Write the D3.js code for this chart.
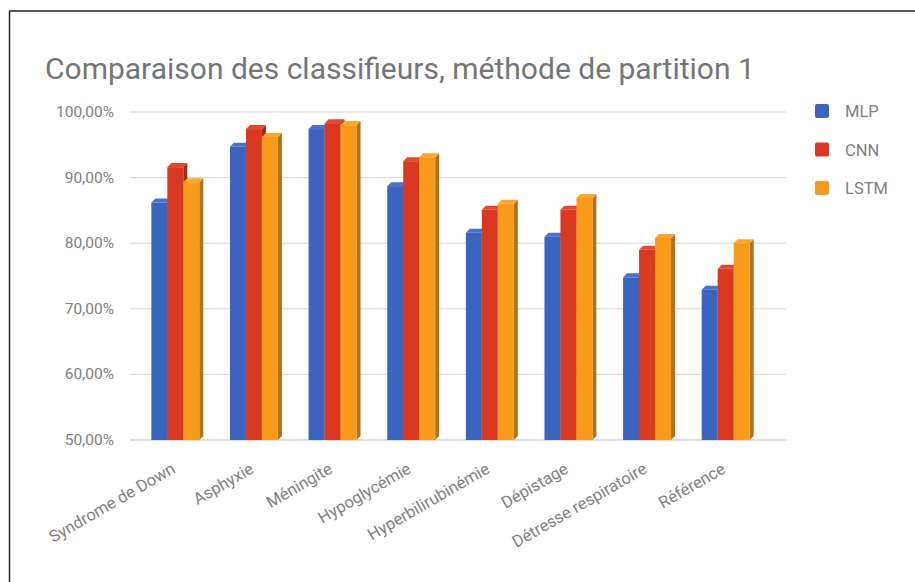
<!DOCTYPE html>
<html>
<head>
<meta charset="utf-8">
<script src="https://cdn.jsdelivr.net/npm/d3@7"></script>
<style>
  body { margin: 0; background: #fff; }
  text { font-family: Roboto, "Open Sans", sans-serif; }
</style>
</head>
<body>
<div id="chart"></div>
<script>
const categories = ["Syndrome de Down", "Asphyxie", "Méningite", "Hypoglycémie",
    "Hyperbilirubinémie", "Dépistage", "Détresse respiratoire", "Référence"];
const seriesNames = ["MLP", "CNN", "LSTM"];
const mlp  = [86.2, 94.7, 97.4, 88.7, 81.6, 81.0, 74.8, 72.9];
const cnn  = [91.6, 97.4, 98.3, 92.5, 85.1, 85.1, 79.0, 76.1];
const lstm = [89.3, 96.2, 98.0, 93.1, 86.0, 86.9, 80.8, 80.0];
const yTicks = [50, 60, 70, 80, 90, 100];

const colors = ["#3b64bf", "#da3921", "#f89b1b"];
const sides = ["#2c4a8e", "#a12a18", "#b5711a"];
const tops = ["#4a72c8", "#e0482f", "#fba62e"];

const W = 915, H = 582;
const margin = {top: 112, left: 136, bottom: 142, right: 150};
const depth = 4;

const svg = d3.select("#chart").append("svg")
    .attr("width", W).attr("height", H);

// frame
svg.append("line").attr("x1", 9.5).attr("x2", 9.5).attr("y1", 11).attr("y2", H)
    .attr("stroke", "#222").attr("stroke-width", 1.5);
svg.append("line").attr("x1", 9).attr("x2", W).attr("y1", 11).attr("y2", 11)
    .attr("stroke", "#222").attr("stroke-width", 1.5);

const x0 = d3.scaleBand()
    .domain(categories)
    .range([margin.left, margin.left + 629])
    .paddingInner(0.39)
    .paddingOuter(0.195);

const x1 = d3.scaleBand()
    .domain(seriesNames)
    .range([0, x0.bandwidth()]);

const y = d3.scaleLinear()
    .domain([50, 100])
    .range([440, 112]);

// gridlines
svg.append("g").selectAll("line")
    .data(yTicks)
    .enter().append("line")
    .attr("x1", 130).attr("x2", 786)
    .attr("y1", d => y(d)).attr("y2", d => y(d))
    .attr("stroke", d => d === 50 ? "#bdbdbd" : "#d6d6d6")
    .attr("stroke-width", 1);

// y axis labels
svg.append("g").selectAll("text")
    .data(yTicks)
    .enter().append("text")
    .attr("x", 114)
    .attr("y", d => y(d) + 5)
    .attr("text-anchor", "end")
    .attr("fill", "#808080")
    .style("font-size", "15.5px")
    .text(d => d3.format(".2f")(d).replace(".", ",") + "%");

// bars
const data = categories.map((c, i) => ({cat: c, vals: [mlp[i], cnn[i], lstm[i]]}));
const groups = svg.append("g").selectAll("g")
    .data(data)
    .enter().append("g")
    .attr("transform", d => `translate(${x0(d.cat)},0)`);

seriesNames.forEach((s, k) => {
    const bx = x1(s), bw = x1.bandwidth();
    // side face
    groups.append("path")
        .attr("fill", sides[k])
        .attr("d", d => {
            const yt = y(d.vals[k]);
            return `M${bx + bw},${yt} L${bx + bw + depth},${yt - depth} L${bx + bw + depth},${y(50) - depth} L${bx + bw},${y(50)} Z`;
        });
    // top face
    groups.append("path")
        .attr("fill", tops[k])
        .attr("d", d => {
            const yt = y(d.vals[k]);
            return `M${bx},${yt} L${bx + depth},${yt - depth} L${bx + bw + depth},${yt - depth} L${bx + bw},${yt} Z`;
        });
    // front face
    groups.append("rect")
        .attr("x", bx)
        .attr("width", bw)
        .attr("y", d => y(d.vals[k]))
        .attr("height", d => y(50) - y(d.vals[k]))
        .attr("fill", colors[k]);
});

// x labels
svg.append("g").selectAll("text")
    .data(categories)
    .enter().append("text")
    .attr("transform", d => `translate(${x0(d) + x0.bandwidth() / 2 + 1},${472}) rotate(-30)`)
    .attr("text-anchor", "end")
    .attr("fill", "#808080")
    .style("font-size", "16.5px")
    .text(d => d);

// title
svg.append("text")
    .attr("x", 45).attr("y", 79)
    .attr("fill", "#757575")
    .style("font-size", "30px")
    .text("Comparaison des classifieurs, méthode de partition 1");

// legend
const legend = svg.append("g").selectAll("g")
    .data(seriesNames)
    .enter().append("g")
    .attr("transform", (d, i) => `translate(815,${104 + i * 38.5})`);
legend.append("rect")
    .attr("width", 14).attr("height", 14).attr("rx", 2)
    .attr("fill", (d, i) => colors[i]);
legend.append("text")
    .attr("x", 30).attr("y", 13)
    .attr("fill", "#808080")
    .style("font-size", "16.5px")
    .text(d => d);
</script>
</body>
</html>
